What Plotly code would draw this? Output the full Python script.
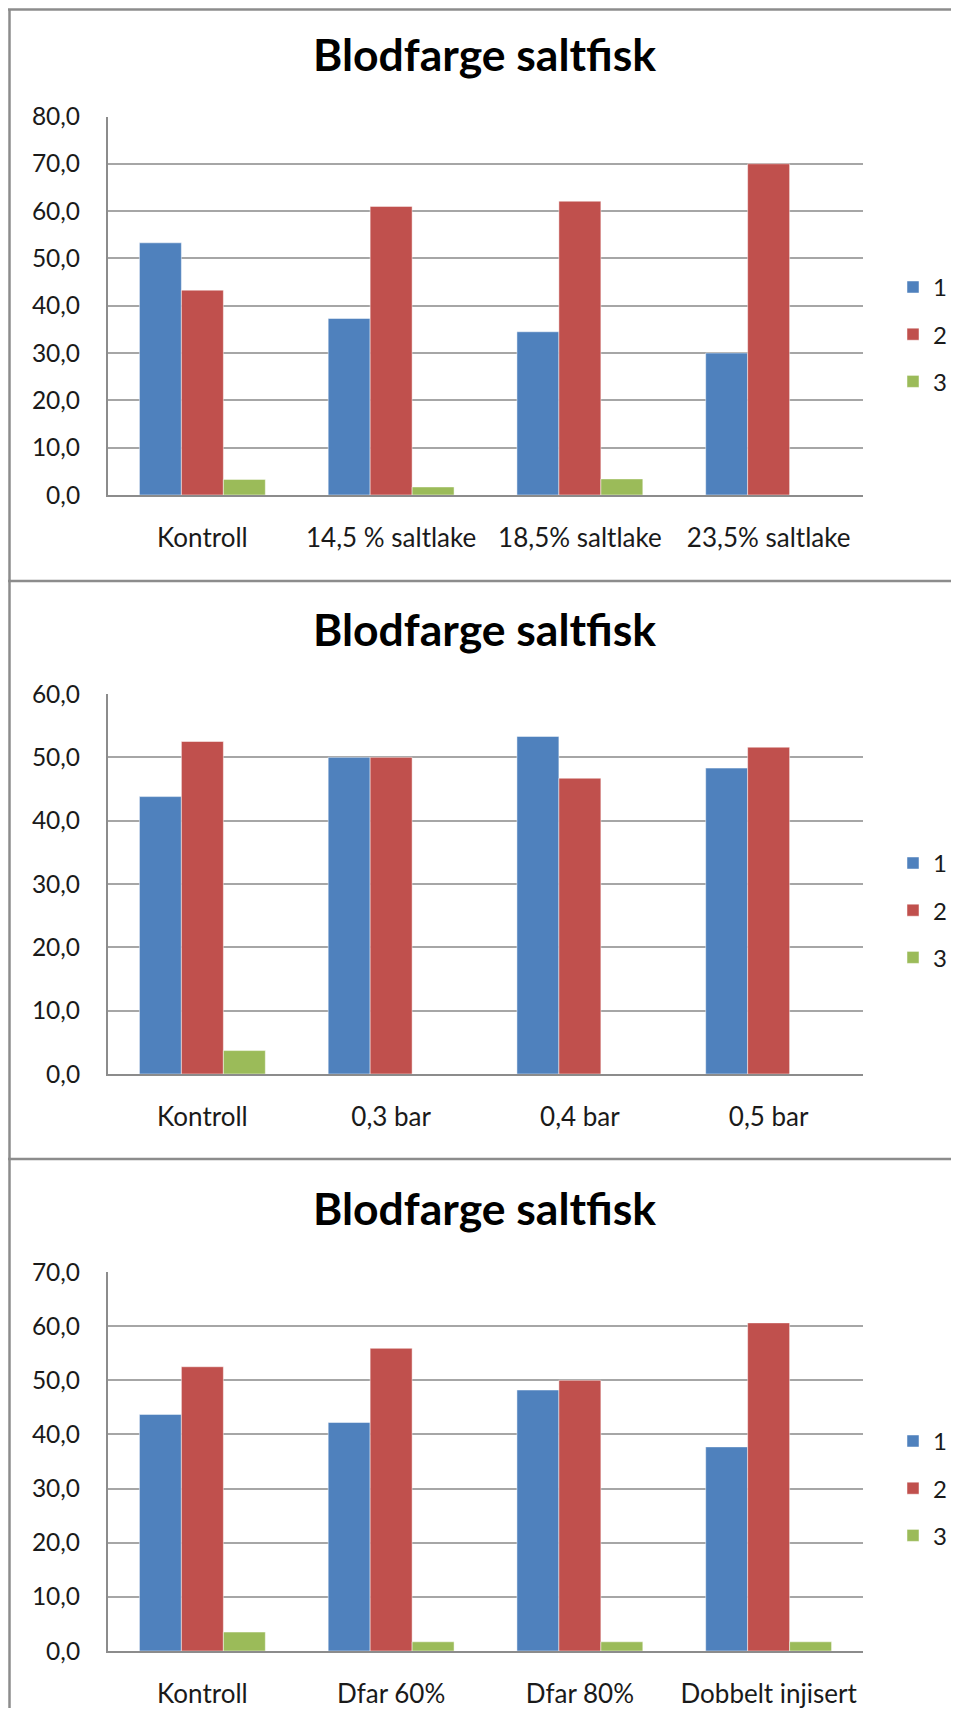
import plotly.graph_objects as go

# The page body adds an 8px margin; figure coordinates are screen minus OFF.
OFF = 8
W, H = 959 - OFF, 1700

title_text = "Blodfarge saltfisk"
series_names = ["1", "2", "3"]
colors = ["#4F81BD", "#C0504D", "#9BBB59"]

cats1 = ["Kontroll", "14,5 % saltlake", "18,5% saltlake", "23,5% saltlake"]
s1_1 = [53.3, 37.3, 34.5, 30.0]
s1_2 = [43.3, 61.0, 62.1, 70.0]
s1_3 = [3.3, 1.7, 3.4, 0.0]
ymax1 = 80

cats2 = ["Kontroll", "0,3 bar", "0,4 bar", "0,5 bar"]
s2_1 = [43.8, 50.0, 53.3, 48.3]
s2_2 = [52.5, 50.0, 46.7, 51.6]
s2_3 = [3.7, 0.0, 0.0, 0.0]
ymax2 = 60

cats3 = ["Kontroll", "Dfar 60%", "Dfar 80%", "Dobbelt injisert"]
s3_1 = [43.7, 42.2, 48.2, 37.7]
s3_2 = [52.5, 55.9, 50.0, 60.6]
s3_3 = [3.5, 1.7, 1.7, 1.7]
ymax3 = 70

# screen-pixel layout positions
panels = [
    dict(cats=cats1, series=[s1_1, s1_2, s1_3], ymax=ymax1,
         ytop=116.5, ybot=495, title_y=53, legend_y=334.4, box=(4, 581)),
    dict(cats=cats2, series=[s2_1, s2_2, s2_3], ymax=ymax2,
         ytop=694, ybot=1074, title_y=629, legend_y=910.4, box=(581, 1159)),
    dict(cats=cats3, series=[s3_1, s3_2, s3_3], ymax=ymax3,
         ytop=1272, ybot=1651, title_y=1207, legend_y=1488.4, box=(1159, 1729)),
]


def fx(px):
    return (px - OFF) / W


def fy(py):
    return 1 - (py - OFF) / H


FONT = "Lato"
GRID = "#A6A6A6"
BORDER = "#8C8C8C"
x0, x1 = 108, 863

fig = go.Figure()
layout = dict(
    width=W, height=H,
    margin=dict(l=0, r=0, t=0, b=0, autoexpand=False),
    paper_bgcolor="white", plot_bgcolor="white",
    separators=", ",
    barmode="group", bargap=0.333, bargroupgap=0,
    font=dict(family=FONT, color="#000000"),
)
annotations = []
shapes = []

for i, p in enumerate(panels):
    n = i + 1
    xa = "x" if n == 1 else f"x{n}"
    ya = "y" if n == 1 else f"y{n}"
    lg = "legend" if n == 1 else f"legend{n}"
    for k, vals in enumerate(p["series"]):
        fig.add_trace(go.Bar(
            x=p["cats"], y=vals, name=series_names[k],
            marker=dict(color=colors[k], line=dict(width=0.8, color="rgba(255,255,255,0.6)")),
            xaxis=xa, yaxis=ya, legend=lg, legendgroup=f"p{n}s{k}",
            hoverinfo="x+y+name",
        ))
    layout[f"xaxis{'' if n == 1 else n}"] = dict(
        domain=[fx(x0), fx(x1)], anchor=ya, automargin=False,
        showline=True, linecolor=BORDER, linewidth=2,
        showgrid=False, ticks="", ticklabelstandoff=19,
        tickfont=dict(family=FONT, size=26, color="#1a1a1a"),
        fixedrange=True,
    )
    layout[f"yaxis{'' if n == 1 else n}"] = dict(
        domain=[fy(p["ybot"]), fy(p["ytop"])], anchor=xa, automargin=False,
        range=[0, p["ymax"]], dtick=10, tickformat=".1f",
        showgrid=True, gridcolor=GRID, gridwidth=2,
        showline=True, linecolor=BORDER, linewidth=2,
        zeroline=False, ticks="", ticklabelstandoff=21,
        tickfont=dict(family=FONT, size=24.5, color="#1a1a1a"),
        fixedrange=True,
    )
    layout[lg] = dict(
        x=fx(893), xanchor="left", y=fy(p["legend_y"]), yanchor="middle",
        font=dict(family=FONT, size=24, color="#1a1a1a"),
        tracegroupgap=13, bgcolor="rgba(0,0,0,0)", borderwidth=0,
        traceorder="grouped",
    )
    annotations.append(dict(
        text="<b>" + title_text + "</b>", x=fx(484), xref="paper",
        y=fy(p["title_y"]), yref="paper", xanchor="center", yanchor="middle",
        showarrow=False, font=dict(family=FONT, size=44.5, color="#000000"),
    ))
    top, bot = p["box"]
    ytop_line = min(fy(top), 1 - 1.5 / H)
    shapes.append(dict(type="line", xref="paper", yref="paper",
                       x0=0, x1=1, y0=ytop_line, y1=ytop_line,
                       line=dict(color=BORDER, width=2.5)))
    shapes.append(dict(type="line", xref="paper", yref="paper",
                       x0=1.5 / W, x1=1.5 / W, y0=ytop_line, y1=max(fy(bot), 0),
                       line=dict(color=BORDER, width=2.5)))

layout["annotations"] = annotations
layout["shapes"] = shapes
fig.update_layout(**layout)
fig.write_html("out.html")
